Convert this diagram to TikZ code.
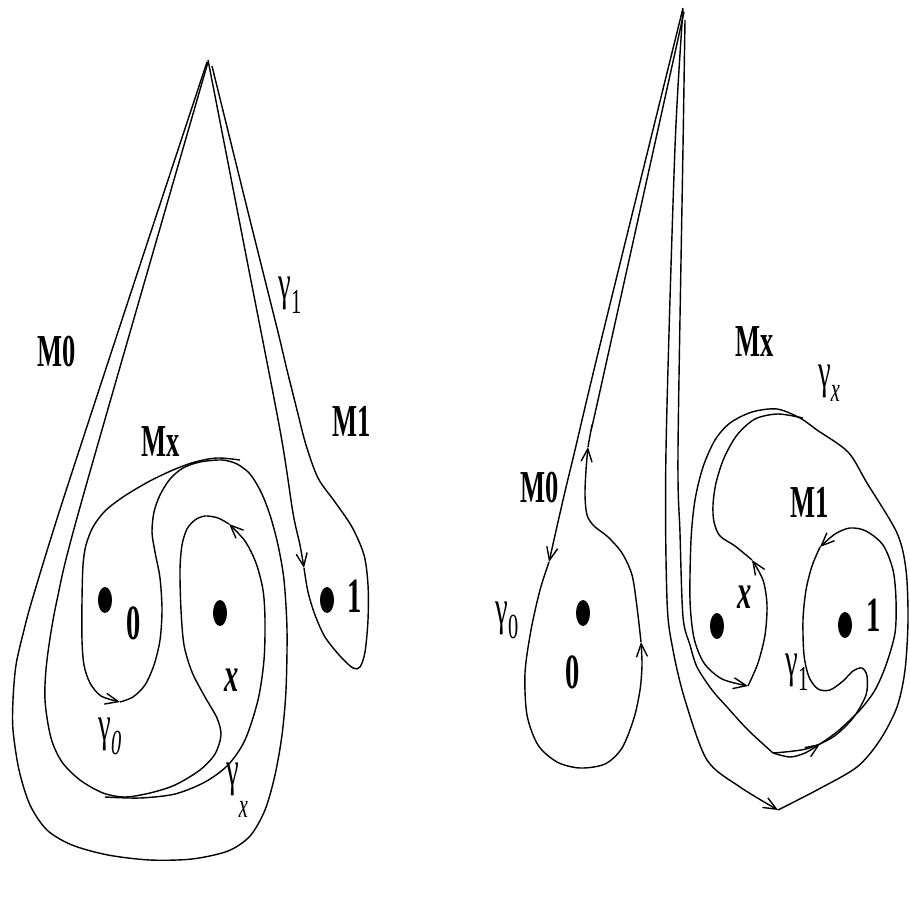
\documentclass[tikz,border=0pt]{standalone}
\usepackage{fontspec}
\newfontfamily\figfont[FakeStretch=0.58]{Liberation Serif}
\usetikzlibrary{arrows.meta}

\begin{document}
\begin{tikzpicture}[x=0.01cm, y=-0.01cm,
    curve/.style={line width=0.4pt},
    tip/.style={-{Straight Barb[length=1.3mm, width=1.1mm]}, line width=0.4pt},
    region/.style={font=\figfont\bfseries\fontsize{13}{13}\selectfont, inner sep=0pt},
    pointname/.style={font=\figfont\bfseries\fontsize{14}{14}\selectfont, inner sep=0pt},
    loopname/.style={font=\figfont\fontsize{14}{14}\selectfont, inner sep=0pt}
]
\useasboundingbox (0,0) rectangle (909,909);

% ---------------- left picture ----------------
% Punctures
\fill (105,600) ellipse [x radius=7, y radius=13];
\fill (220,613) ellipse [x radius=7, y radius=13];
\fill (327,600) ellipse [x radius=7, y radius=13];

% gamma_0 with the big outer loop
\draw[tip] plot[smooth] coordinates {(240,460) (217,458) (195,462) (173,470) (148,482) (123,497) (105,511) (93,527) (86,545) (83,565) (82,600) (82,640) (84,665) (90,683) (101,696) (120,702)};
\draw[curve] plot[smooth] coordinates {(120,702) (133,697) (145,685) (154,665) (160,640) (162,610) (160,578) (155,552) (152,532) (154,512) (160,495) (170,479) (183,468) (200,462) (222,460) (237,464) (250,474) (261,492) (270,515) (278,545) (284,580) (287,630) (286,690) (282,735) (275,775) (265,810) (250,836) (228,851) (192,859) (150,860) (108,855) (72,845) (47,830) (30,805) (19,770) (13,730) (13,700) (16,665) (24,630) (33,597) (63,500) (140,265) (207,62)};

% gamma_x
\draw[tip] plot[smooth] coordinates {(105,797) (140,798) (175,794) (205,782) (228,765) (245,740) (258,700) (264,660) (265,620) (263,590) (256,563) (245,541) (229,524)};
\draw[curve] plot[smooth] coordinates {(229,524) (218,518) (205,516) (195,520) (187,529) (182,545) (180,570) (181,610) (184,645) (192,672) (205,697) (217,718) (221,735) (215,754) (200,770) (175,785) (150,793) (125,797) (103,793) (80,780) (62,762) (51,738) (45,700) (47,660) (57,600) (82,500) (208,62)};

% gamma_1
\draw[tip] plot[smooth] coordinates {(208,60) (245,250) (280,430) (293,513) (300,545) (304,568)};
\draw[curve] plot[smooth] coordinates {(304,568) (308,592) (315,615) (325,637) (340,656) (353,668) (360,667) (365,652) (368,620) (368,585) (364,555) (352,527) (335,502) (318,478) (306,445) (297,410) (287,370) (277,328) (250,220) (212,66)};

% Labels
\node[region] (m0a) at (57,352) {M0};
\node[region] (mxa) at (161,442) {Mx};
\node[region] (m1a) at (352,421) {M1};
\node[pointname] (p0a) at (134,623) {0};
\node[pointname] (p1a) at (355,596) {1};
\node[pointname] (pxa) at (232,680) {\itshape x};
\node[loopname] (g1a) at (290,295) {γ\raisebox{-4pt}{\fontsize{10}{10}\selectfont 1}};
\node[loopname] (g0a) at (110,736) {γ\raisebox{-4pt}{\fontsize{10}{10}\selectfont\itshape 0}};
\node[loopname] (gxa) at (237,790) {γ\raisebox{-9pt}{\fontsize{10}{10}\selectfont\itshape x}};

% ---------------- right picture ----------------
% Punctures
\fill (583,613) ellipse [x radius=7, y radius=13];
\fill (717,626) ellipse [x radius=7, y radius=13];
\fill (845,625) ellipse [x radius=7, y radius=13];

% gamma_0
\draw[tip] plot[smooth] coordinates {(683,8) (600,345) (575,450) (563,500) (549,562)};
\draw[tip] plot[smooth] coordinates {(549,562) (540,590) (531,630) (525,673) (527,715) (538,745) (557,762) (580,768) (605,764) (622,748) (634,718) (640,690) (642,665) (641,642)};
\draw[tip] plot[smooth] coordinates {(641,642) (637,607) (632,575) (622,553) (608,537) (594,526) (587,515) (585,495) (586,470) (588,447)};
\draw[curve] plot[smooth] coordinates {(588,447) (592,425) (598,400) (684,12)};

% big loop around x and 1
\draw[tip] plot[smooth] coordinates {(683,10) (675,147) (666,450) (667,600) (673,650) (685,700) (707,760) (740,787) (778,810)};
\draw[tip] plot[smooth] coordinates {(778,810) (817,790) (857,767) (880,740) (897,707) (905,670) (908,620) (906,570) (897,533) (867,483) (848,452) (817,430) (800,418) (777,409) (752,412) (730,423) (715,440) (703,467) (695,500) (691,540) (690,600) (694,638) (704,663) (722,679) (748,686)};
\draw[tip] plot[smooth] coordinates {(748,686) (758,663) (765,635) (767,605) (763,580) (752,560)};
\draw[curve] plot[smooth] coordinates {(752,560) (735,546) (720,536) (714,522) (713,505) (716,483) (724,458) (737,435) (755,419) (778,414) (803,418)};

% gamma_1
\draw[curve] plot[smooth] coordinates {(685,20) (683,147) (678,450) (680,533) (683,617) (690,645) (697,667) (712,690) (727,707) (748,730) (773,753)};
\draw[tip] plot[smooth] coordinates {(773,753) (790,757) (805,753) (820,744)};
\draw[tip] plot[smooth] coordinates {(820,744) (838,731) (860,710) (875,690) (886,665) (895,633) (896,600) (893,570) (883,545) (866,531) (850,528) (835,534) (820,547)};
\draw[curve] plot[smooth] coordinates {(820,547) (812,566) (806,590) (803,620) (804,655) (809,677) (818,689) (830,690) (843,681) (853,671) (862,668) (867,676) (866,695) (853,718) (833,737) (806,749) (773,753)};

% Labels
\node[region] (m0b) at (540,488) {M0};
\node[region] (mxb) at (755,342) {Mx};
\node[region] (m1b) at (810,502) {M1};
\node[pointname] (p0b) at (573,672) {0};
\node[pointname] (p1b) at (874,615) {1};
\node[pointname] (pxb) at (745,597) {\itshape x};
\node[loopname] (g0b) at (507,620) {γ\raisebox{-4pt}{\fontsize{10}{10}\selectfont 0}};
\node[loopname] (gxb) at (829,383) {γ\raisebox{-4pt}{\fontsize{10}{10}\selectfont\itshape x}};
\node[loopname] (g1b) at (797,672) {γ\raisebox{-4pt}{\fontsize{10}{10}\selectfont 1}};
\end{tikzpicture}
\end{document}
